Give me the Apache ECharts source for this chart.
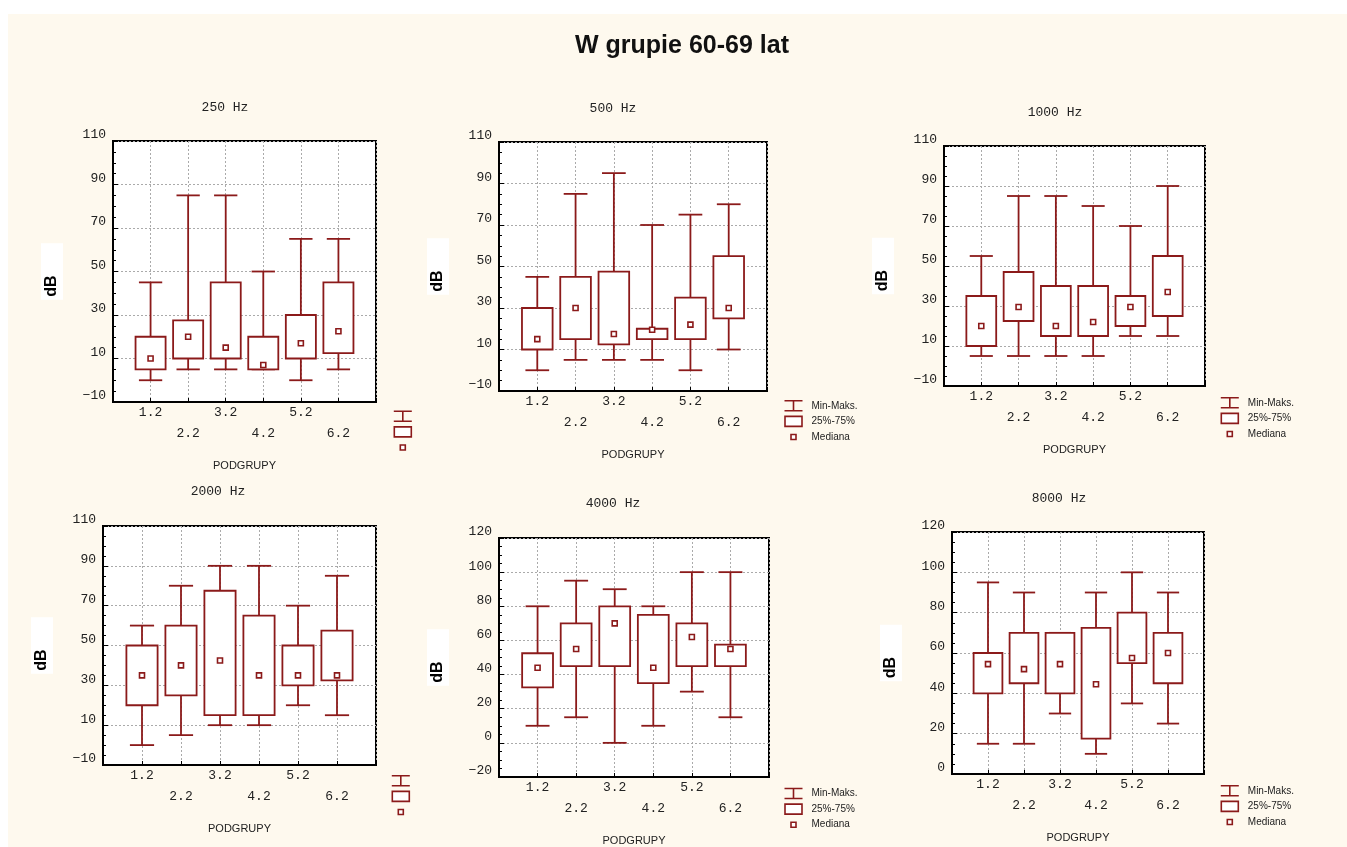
<!DOCTYPE html>
<html>
<head>
<meta charset="utf-8">
<title>W grupie 60-69 lat</title>
<script src="https://cdn.jsdelivr.net/npm/echarts@6.0.0/dist/echarts.min.js"></script>
<style>
    html, body { margin: 0; padding: 0; background: #fff; }
    #chart { position: absolute; left: 8px; top: 14px; width: 1339px; height: 833px; background: #fef9ee; }
</style>
</head>
<body>
<div id="chart"></div>
<script>
    // podgrupy na osi X
    const podgrupy = ['1.2', '2.2', '3.2', '4.2', '5.2', '6.2'];

    // [min, 25%, mediana, 75%, maks] dla kazdej podgrupy (odczyt z wykresu)
    const hz250 = [[0, 5, 10, 20, 45], [5, 10, 20, 27.5, 85], [5, 10, 15, 45, 85], [5, 5, 7, 20, 50], [0, 10, 17, 30, 65], [5, 12.5, 22.5, 45, 65]];
    const hz500 = [[0, 10, 15, 30, 45], [5, 15, 30, 45, 85], [5, 12.5, 17.5, 47.5, 95], [5, 15, 19.5, 20, 70], [0, 15, 22, 35, 75], [10, 25, 30, 55, 80]];
    const hz1000 = [[5, 10, 20, 35, 55], [5, 22.5, 29.5, 47, 85], [5, 15, 20, 40, 85], [5, 15, 22, 40, 80], [15, 20, 29.5, 35, 70], [15, 25, 37, 55, 90]];
    const hz2000 = [[0, 20, 35, 50, 60], [5, 25, 40, 60, 80], [10, 15, 42.5, 77.5, 90], [10, 15, 35, 65, 90], [20, 30, 35, 50, 70], [15, 32.5, 35, 57.5, 85]];
    const hz4000 = [[10, 32.5, 44, 52.5, 80], [15, 45, 55, 70, 95], [0, 45, 70, 80, 90], [10, 35, 44, 75, 80], [30, 45, 62, 70, 100], [15, 45, 55, 57.5, 100]];
    const hz8000 = [[15, 40, 54.5, 60, 95], [15, 45, 52, 70, 90], [30, 40, 54.5, 70, 70], [10, 17.5, 44.5, 72.5, 90], [35, 55, 57.5, 80, 100], [25, 45, 60, 70, 90]];

    const titles = ['250 Hz', '500 Hz', '1000 Hz', '2000 Hz', '4000 Hz', '8000 Hz'];
    const panelData = [hz250, hz500, hz1000, hz2000, hz4000, hz8000];
    const yMin = [-10, -10, -10, -10, -20, 0];
    const yMax = [110, 110, 110, 110, 120, 120];
    const legendNames = ['Min-Maks.', '25%-75%', 'Mediana'];

    // polozenie paneli (wspolrzedne strony)
    const OX = 8, OY = 14;
    const grids = [[113, 141, 263, 261], [499, 142, 268, 249], [944, 146, 261, 240], [103, 526, 273, 239], [499, 538, 270, 239], [952, 532, 252, 242]];
    const titlePos = [[225, 108], [613, 109], [1055, 113], [218, 492], [613, 504], [1059, 499]];
    const legendPos = [[393, 409.5], [783.7, 399], [1220, 396], [391, 774], [783.7, 786.7], [1220, 784]];
    const legendText = [false, true, true, false, true, true];

    const RED = '#8b1a1a';
    const MONO = '"Liberation Mono", "Courier New", monospace';
    const SANS = '"Liberation Sans", Arial, sans-serif';

    const chart = echarts.init(document.getElementById('chart'));

    function xLabel(v) {
        if (v < 1 || v > 6) return '';
        const t = podgrupy[v - 1];
        return v % 2 === 0 ? '\n' + t : t;
    }
    function yLabel(v) {
        return v < 0 ? '\u2212' + Math.abs(v) : String(v);
    }

    function pts(api) {
        const x = api.value(0);
        return {
            lo: api.coord([x, api.value(1)]),
            q1: api.coord([x, api.value(2)]),
            med: api.coord([x, api.value(3)]),
            q3: api.coord([x, api.value(4)]),
            hi: api.coord([x, api.value(5)]),
            slot: api.size([1, 0])[0]
        };
    }
    const lineSt = { stroke: RED, lineWidth: 1.8 };

    function renderWhisker(params, api) {
        const p = pts(api);
        const c = p.slot * 0.31;
        const x = p.q1[0];
        return {
            type: 'group',
            children: [
                { type: 'line', shape: { x1: x, y1: p.hi[1], x2: x, y2: p.q3[1] }, style: lineSt },
                { type: 'line', shape: { x1: x, y1: p.q1[1], x2: x, y2: p.lo[1] }, style: lineSt },
                { type: 'line', shape: { x1: x - c, y1: p.hi[1], x2: x + c, y2: p.hi[1] }, style: lineSt },
                { type: 'line', shape: { x1: x - c, y1: p.lo[1], x2: x + c, y2: p.lo[1] }, style: lineSt }
            ]
        };
    }
    function renderBox(params, api) {
        const p = pts(api);
        const w = p.slot * 0.8;
        return {
            type: 'rect',
            shape: { x: p.q3[0] - w / 2, y: p.q3[1], width: w, height: p.q1[1] - p.q3[1] },
            style: { fill: '#fff', stroke: RED, lineWidth: 1.8 }
        };
    }
    function renderMedian(params, api) {
        const p = pts(api);
        return {
            type: 'rect',
            shape: { x: p.med[0] - 2.5, y: p.med[1] - 2.5, width: 5, height: 5 },
            style: { fill: '#fff', stroke: RED, lineWidth: 1.6 }
        };
    }

    const icons = {
        'Min-Maks.': 'path://M0 0 M22 12 M0 1 L18 1 M9 1 L9 11 M0 11 L18 11',
        '25%-75%': 'path://M0 0 M22 12 M0.5 1 L17.5 1 L17.5 11 L0.5 11 Z',
        'Mediana': 'path://M0 0 M22 12 M6.5 3.5 L11.5 3.5 L11.5 8.5 L6.5 8.5 Z'
    };

    const option = {
        animation: false,
        title: [{
            text: 'W grupie 60-69 lat',
            left: 682 - OX, top: 46 - OY,
            textAlign: 'center', textVerticalAlign: 'middle', padding: 0,
            textStyle: { fontFamily: SANS, fontWeight: 'bold', fontSize: 25, color: '#111' }
        }],
        grid: [], xAxis: [], yAxis: [], legend: [], series: []
    };

    panelData.forEach((rows, i) => {
        const g = grids[i];
        option.title.push({
            text: titles[i],
            left: titlePos[i][0] - OX, top: titlePos[i][1] - OY,
            textAlign: 'center', textVerticalAlign: 'middle', padding: 0,
            textStyle: { fontFamily: MONO, fontWeight: 'normal', fontSize: 13, color: '#222' }
        });
        option.grid.push({
            left: g[0] - OX, top: g[1] - OY, width: g[2], height: g[3],
            show: true, backgroundColor: '#fff', borderColor: '#000', borderWidth: 2,
            containLabel: false, outerBoundsMode: 'none'
        });
        option.xAxis.push({
            type: 'value', gridIndex: i, min: 0, max: 7, interval: 1,
            name: 'PODGRUPY', nameLocation: 'middle', nameGap: 58,
            nameTextStyle: { fontFamily: SANS, fontSize: 11, color: '#222' },
            axisLine: { show: true, onZero: false, lineStyle: { color: '#000', width: 2 } },
            axisTick: { show: true, inside: true, length: 4, lineStyle: { color: '#000' } },
            axisLabel: { formatter: xLabel, fontFamily: MONO, fontSize: 13, color: '#222', lineHeight: 21, margin: 0, verticalAlign: 'top' },
            splitLine: { show: true, lineStyle: { color: '#aaa', type: [2, 2] } }
        });
        option.yAxis.push({
            type: 'value', gridIndex: i, min: yMin[i], max: yMax[i], interval: 20,
            name: 'dB', nameLocation: 'middle', nameGap: 50, nameRotate: 90,
            nameTextStyle: { fontFamily: SANS, fontWeight: 'bold', fontSize: 16, color: '#000', backgroundColor: '#fff', padding: [3, 32, 3, 3] },
            axisLine: { show: true, onZero: false, lineStyle: { color: '#000', width: 2 } },
            axisTick: { show: true, inside: true, length: 5, lineStyle: { color: '#000' } },
            minorTick: { show: true, splitNumber: 4, length: 3, lineStyle: { color: '#000' } },
            axisLabel: { formatter: yLabel, fontFamily: MONO, fontSize: 13, color: '#222', margin: 7, verticalAlign: 'bottom', lineHeight: 12 },
            splitLine: { show: true, lineStyle: { color: '#aaa', type: [2, 2] } }
        });
        option.legend.push({
            orient: 'vertical',
            left: legendPos[i][0] - OX, top: legendPos[i][1] - OY, padding: 0,
            itemWidth: 22, itemHeight: 12, itemGap: 2,
            selectedMode: false,
            formatter: legendText[i] ? (n => n) : (() => ''),
            textStyle: { fontFamily: SANS, fontSize: 10, color: '#222', padding: [0, 0, 0, 0] },
            itemStyle: { color: '#fff', borderColor: RED, borderWidth: 1.6 },
            data: legendNames.map(n => ({ name: n, icon: icons[n] }))
        });
        const d = rows.map((r, k) => [k + 1].concat(r));
        const common = { type: 'custom', xAxisIndex: i, yAxisIndex: i, data: d, encode: { x: 0, y: [1, 2, 3, 4, 5] }, itemStyle: { color: RED } };
        option.series.push(Object.assign({ name: 'Min-Maks.', renderItem: renderWhisker }, common));
        option.series.push(Object.assign({ name: '25%-75%', renderItem: renderBox }, common));
        option.series.push(Object.assign({ name: 'Mediana', renderItem: renderMedian }, common));
    });

    chart.setOption(option);
</script>
</body>
</html>
